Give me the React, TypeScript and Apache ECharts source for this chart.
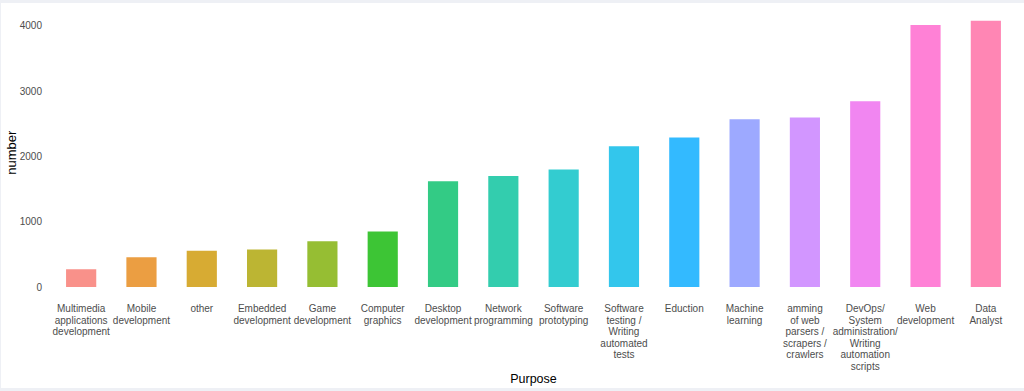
import React, { useEffect, useRef } from "react";
import * as echarts from "echarts";

const categories = [
  "Multimedia\napplications\ndevelopment",
  "Mobile\ndevelopment",
  "other",
  "Embedded\ndevelopment",
  "Game\ndevelopment",
  "Computer\ngraphics",
  "Desktop\ndevelopment",
  "Network\nprogramming",
  "Software\nprototyping",
  "Software\ntesting /\nWriting\nautomated\ntests",
  "Eduction",
  "Machine\nlearning",
  "amming\nof web\nparsers /\nscrapers /\ncrawlers",
  "DevOps/\nSystem\nadministration/\nWriting\nautomation\nscripts",
  "Web\ndevelopment",
  "Data\nAnalyst",
];

const values = [270, 457, 555, 575, 702, 851, 1618, 1700, 1797, 2155, 2288, 2569, 2595, 2845, 4011, 4077];

const colors = [
  "#F8766D", "#E68613", "#CD9600", "#ABA300", "#7CAE00", "#0CB702", "#00BE67", "#00C19A",
  "#00BFC4", "#00B8E7", "#00A9FF", "#8494FF", "#C77CFF", "#ED68ED", "#FF61CC", "#FF68A1",
];

const FONT = "'Liberation Sans', Arial, sans-serif";

export default function App() {
  const ref = useRef<HTMLDivElement>(null);
  useEffect(() => {
    if (!ref.current) return;
    const chart = echarts.init(ref.current, null, { renderer: "svg" });
    chart.setOption({
      animation: false,
      backgroundColor: "#ffffff",
      textStyle: { fontFamily: FONT },
      grid: { left: 50, right: 8, top: 9.6, bottom: 101, containLabel: false, outerBoundsMode: "none" },
      xAxis: {
        type: "category",
        data: categories,
        name: "Purpose",
        nameLocation: "middle",
        nameGap: 85,
        nameMoveOverlap: false,
        nameTextStyle: { color: "#000000", fontSize: 12.5, fontFamily: FONT },
        axisLine: { show: false },
        axisTick: { show: false },
        axisLabel: {
          interval: 0,
          margin: 16,
          color: "#4d4d4d",
          fontSize: 10,
          lineHeight: 11.5,
          fontFamily: FONT,
        },
        splitLine: { show: false },
      },
      yAxis: {
        type: "value",
        min: 0,
        max: 4200,
        interval: 1000,
        name: "number",
        nameLocation: "middle",
        nameGap: 33,
        nameMoveOverlap: false,
        nameTextStyle: { color: "#000000", fontSize: 13, fontFamily: FONT, padding: [0, 6, 0, 0] },
        axisLine: { show: false },
        axisTick: { show: false },
        splitLine: { show: false },
        axisLabel: {
          margin: 9,
          color: "#4d4d4d",
          fontSize: 10,
          fontFamily: FONT,
          formatter: (v: number) => (v % 1000 === 0 ? String(v) : ""),
        },
      },
      series: [
        {
          type: "bar",
          barCategoryGap: "50%",
          data: values.map((v, i) => ({
            value: v,
            itemStyle: { color: colors[i], opacity: 0.8 },
          })),
        },
      ],
    });
    return () => chart.dispose();
  }, []);
  return (
    <div style={{ position: "fixed", left: 0, top: 0, width: 1024, height: 391, background: "#eef0f5" }}>
      <div ref={ref} style={{ position: "absolute", left: 1, top: 3, width: 1023, height: 385 }} />
    </div>
  );
}
